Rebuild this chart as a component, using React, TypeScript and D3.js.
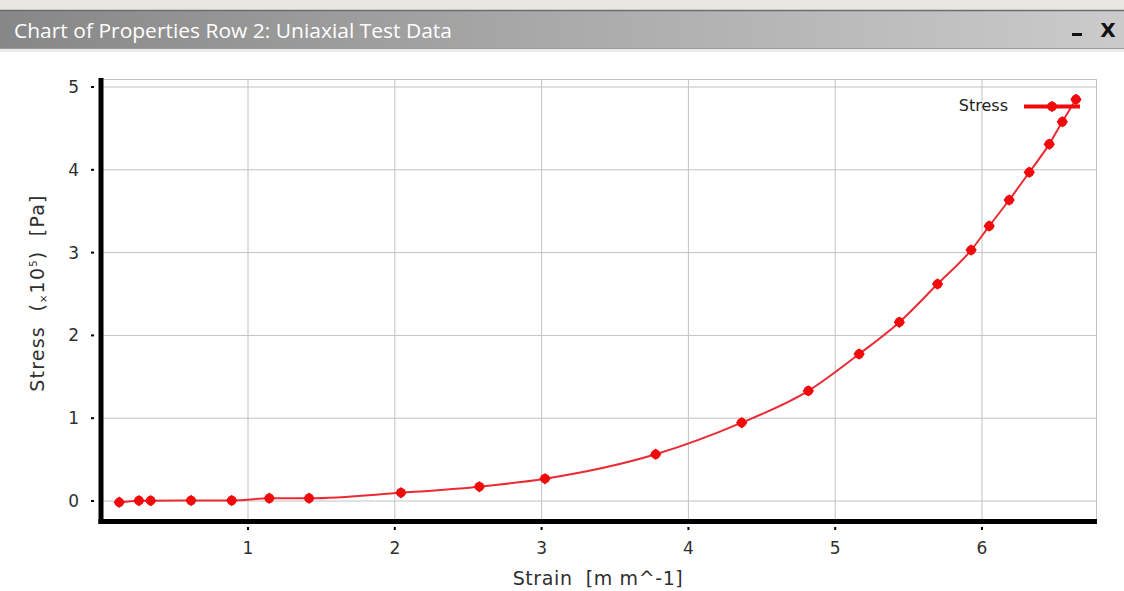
import React from "react";
import * as d3 from "d3";

const strain = [0.123, 0.257, 0.337, 0.612, 0.889, 1.145, 1.416, 2.042, 2.576, 3.023, 3.777, 4.363, 4.817, 5.163, 5.437, 5.697, 5.926, 6.049, 6.185, 6.322, 6.458, 6.547, 6.64];
const stress = [-0.016, 0.004, 0.004, 0.006, 0.006, 0.033, 0.033, 0.1, 0.173, 0.269, 0.564, 0.946, 1.33, 1.775, 2.16, 2.62, 3.03, 3.32, 3.635, 3.97, 4.31, 4.58, 4.85];
const xTicks = [1, 2, 3, 4, 5, 6];
const yTicks = [0, 1, 2, 3, 4, 5];
const titleText = "Chart of Properties Row 2: Uniaxial Test Data";
const xLabel = "Strain  [m m^-1]";
const seriesName = "Stress";

const W = 1124;
const H = 591;
const left = 101;
const right = 1097;
const top = 79;
const bottom = 521;

export default function App() {
  const x = d3.scaleLinear().domain([0, 6]).range([101.2, 982]);
  const y = d3.scaleLinear().domain([0, 5]).range([501, 87]);
  const pts = strain.map((s, i) => [x(s), y(stress[i])] as [number, number]);
  const line = d3.line().curve(d3.curveMonotoneX)(pts) || "";
  const square = d3.symbol().type(d3.symbolSquare).size(66)() || "";
  const fontAxis = "'DejaVu Sans', sans-serif";
  const pre = { whiteSpace: "pre" as const };

  const marker = (cx: number, cy: number, k: number) => (
    <g key={k} transform={`translate(${cx},${cy})`}>
      <path d={square} transform="rotate(45)" fill="#f00a0a" />
      <circle r={4.8} fill="#f00a0a" />
    </g>
  );

  return (
    <svg width={W} height={H} style={{ position: "absolute", left: 0, top: 0, background: "#ffffff" }}>
      <defs>
        <linearGradient id="tb" x1="0" x2="1" y1="0" y2="0">
          <stop offset="0" stopColor="#878787" />
          <stop offset="0.5" stopColor="#aaaaaa" />
          <stop offset="1" stopColor="#cbcbcb" />
        </linearGradient>
      </defs>
      <rect x={0} y={0} width={W} height={10} fill="#e8e7e2" />
      <rect x={0} y={10} width={W} height={38} fill="url(#tb)" />
      <line x1={0} x2={W} y1={10.5} y2={10.5} stroke="#6e6e6e" strokeWidth={1.5} />
      <line x1={0} x2={W} y1={48.5} y2={48.5} stroke="#9a9a9a" strokeWidth={1} />
      <rect x={0} y={49} width={W} height={3} fill="#ececec" />
      <text x={14} y={38} fill="#ffffff" fontFamily="'Open Sans', sans-serif" fontSize={20} textLength={438} lengthAdjust="spacingAndGlyphs">{titleText}</text>
      <rect x={1072} y={33} width={10} height={3} fill="#111" />
      <text x={1108} y={37} fill="#111" fontFamily="'DejaVu Sans', sans-serif" fontSize={20} fontWeight="bold" textAnchor="middle">X</text>

      {/* grid */}
      {xTicks.map((t) => (
        <line key={"gx" + t} x1={x(t)} x2={x(t)} y1={top} y2={bottom} stroke="#c2c2c2" strokeWidth={1} />
      ))}
      {yTicks.map((t) => (
        <line key={"gy" + t} x1={left} x2={right} y1={y(t)} y2={y(t)} stroke="#c2c2c2" strokeWidth={1} />
      ))}
      <line x1={left} x2={right} y1={top + 0.5} y2={top + 0.5} stroke="#c2c2c2" strokeWidth={1} />
      <line x1={right - 0.5} x2={right - 0.5} y1={top} y2={bottom} stroke="#c2c2c2" strokeWidth={1} />

      {/* axes */}
      <line x1={101} x2={101} y1={78} y2={524} stroke="#000" strokeWidth={5} />
      <line x1={98.5} x2={right} y1={521.5} y2={521.5} stroke="#000" strokeWidth={5} />
      {yTicks.map((t) => (
        <g key={"ty" + t}>
          <line x1={91} x2={94} y1={y(t)} y2={y(t)} stroke="#000" strokeWidth={2} />
          <text x={79} y={y(t) + 6} textAnchor="end" fontFamily={fontAxis} fontSize={17} fill="#2f2f2f">{t}</text>
        </g>
      ))}
      {xTicks.map((t) => (
        <g key={"tx" + t}>
          <line x1={x(t)} x2={x(t)} y1={527} y2={530} stroke="#000" strokeWidth={2} />
          <text x={x(t)} y={554} textAnchor="middle" fontFamily={fontAxis} fontSize={17} fill="#2f2f2f">{t}</text>
        </g>
      ))}
      <text x={598} y={585} textAnchor="middle" fontFamily={fontAxis} fontSize={19} fill="#2f2f2f" style={pre} letterSpacing={0.6}>{xLabel}</text>
      <text transform="translate(44,293) rotate(-90)" textAnchor="middle" fontFamily={fontAxis} fontSize={19} fill="#2f2f2f" style={pre} letterSpacing={1.2}>
        <tspan>{"Stress  ("}</tspan>
        <tspan fontSize={10} dy={3}>×</tspan>
        <tspan dy={-3}>10</tspan>
        <tspan fontSize={10} dy={-7}>5</tspan>
        <tspan dy={7}>{")  [Pa]"}</tspan>
      </text>

      {/* series */}
      <path d={line} fill="none" stroke="#ec2a35" strokeWidth={2} />
      {pts.map((p, i) => marker(p[0], p[1], i))}

      {/* legend */}
      <text x={1008} y={111} textAnchor="end" fontFamily={fontAxis} fontSize={16} fill="#222">{seriesName}</text>
      <line x1={1024} x2={1080} y1={106.5} y2={106.5} stroke="#f00a0a" strokeWidth={4} />
      {marker(1052, 106.5, 999)}
    </svg>
  );
}
